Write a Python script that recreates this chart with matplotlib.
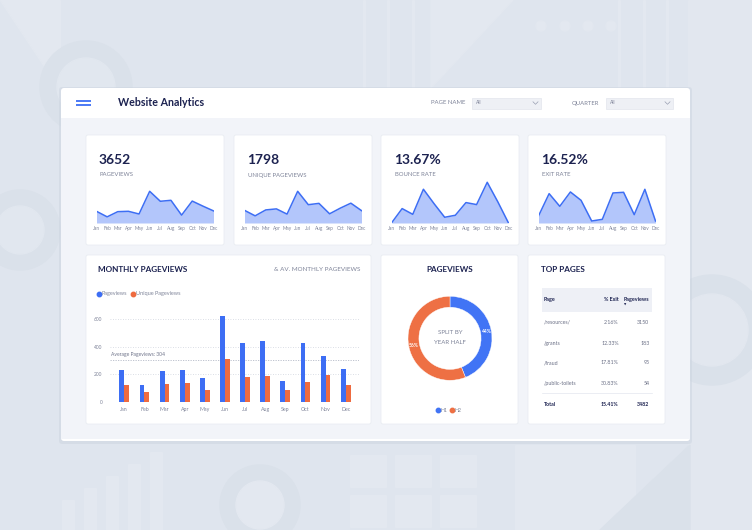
import matplotlib
matplotlib.use("Agg")
import matplotlib.pyplot as plt
from matplotlib.patches import FancyBboxPatch, Rectangle, Circle, Wedge, Polygon
from matplotlib.lines import Line2D

plt.rcParams['font.family'] = ['Lato', 'DejaVu Sans']

# ---- data ----
months = ['Jan', 'Feb', 'Mar', 'Apr', 'May', 'Jun', 'Jul', 'Aug', 'Sep', 'Oct', 'Nov', 'Dec']
pageviews = [230, 121, 223, 230, 177, 623, 427, 446, 155, 431, 332, 238]
unique_pageviews = [124, 70, 128, 138, 87, 310, 179, 192, 90, 145, 194, 121]
bounce_rate = [0.0, 10.8, 6.5, 25.3, 14.5, 4.3, 5.8, 15.3, 13.8, 30.5, 15.8, 0.0]
exit_rate = [6.3, 26.4, 15.0, 27.9, 20.4, 1.8, 3.3, 27.0, 27.6, 7.5, 30.3, 1.8]
avg_pageviews = 304

kpi_values = ['3652', '1798', '13.67%', '16.52%']
kpi_labels = ['PAGEVIEWS', 'UNIQUE PAGEVIEWS', 'BOUNCE RATE', 'EXIT RATE']
kpi_series = [pageviews, unique_pageviews, bounce_rate, exit_rate]

half_labels = ['H1', 'H2']
half_share = [44, 56]

page_names = ['/resources/', '/grants', '/fraud', '/public-toilets']
page_exit = ['2.16%', '12.33%', '17.81%', '30.83%']
page_views = [3150, 183, 95, 54]
total_exit = '15.41%'
total_views = 3482

# ---- colours ----
BLUE = '#3d6ef4'
ORANGE = '#ee6b40'
NAVY = '#1c2250'
GREY = '#7f8499'
FILL = '#b3c6fb'

W, H = 752, 530
fig = plt.figure(figsize=(7.52, 5.30), dpi=100)
bg = fig.add_axes([0, 0, 1, 1])
bg.set_xlim(0, W)
bg.set_ylim(H, 0)
bg.axis('off')


def px_axes(x0, y0, x1, y1):
    return fig.add_axes([x0 / W, 1 - y1 / H, (x1 - x0) / W, (y1 - y0) / H])


# background with faint shapes
bg.add_patch(Rectangle((0, 0), W, H, color='#dfe5ee', zorder=0))
light, dark = '#e3e8f0', '#dae1ea'
bg.add_patch(Polygon([[0, 0], [60, 0], [60, 90]], color=light, zorder=0))
bg.add_patch(Circle((86, 87), 46, color=dark, zorder=0))
bg.add_patch(Circle((86, 87), 29, color='#e1e7ef', zorder=0))
bg.add_patch(Wedge((260, 130), 88, 90, 180, color=light, zorder=0))
bg.add_patch(Wedge((345, 100), 85, 90, 180, color=light, zorder=0))
for x in [363, 387, 412, 618, 643, 666]:
    bg.add_patch(Rectangle((x, 0), 2, 90, color=light, zorder=0))
bg.add_patch(Polygon([[431, 0], [513, 0], [431, 88]], color=light, zorder=0))
for x in [541, 565, 588, 611]:
    bg.add_patch(Circle((x, 26), 5, color=light, zorder=0))
bg.add_patch(Rectangle((688, 0), 64, H, color='#e2e7ef', zorder=0))
bg.add_patch(Circle((712, 330), 55, color=dark, zorder=0))
bg.add_patch(Circle((712, 330), 36, color='#e2e7ef', zorder=0))
bg.add_patch(Circle((20, 230), 40, color=dark, zorder=0))
bg.add_patch(Circle((20, 230), 24, color='#e1e7ef', zorder=0))
for i, x in enumerate([62, 84, 106, 128, 150]):
    bg.add_patch(Rectangle((x, 530 - (30 + 12 * i)), 12, 30 + 12 * i, color=light, zorder=0))
bg.add_patch(Circle((260, 505), 40, color=dark, zorder=0))
bg.add_patch(Circle((260, 505), 24, color=light, zorder=0))
for x in [350, 395, 440]:
    for y in [455, 495]:
        bg.add_patch(Rectangle((x, y), 36, 32, color=light, zorder=0))
bg.add_patch(Rectangle((515, 445), 120, 85, color=light, zorder=0))
bg.add_patch(Polygon([[600, 530], [690, 445], [690, 530]], color=dark, zorder=0))

# panel with soft shadow
bg.add_patch(FancyBboxPatch((59, 87), 633, 357, boxstyle='round,pad=0,rounding_size=3',
                            fc='#ccd4e0', ec='none', alpha=0.5, zorder=1))
bg.add_patch(FancyBboxPatch((61, 88), 629, 353, boxstyle='round,pad=0,rounding_size=3',
                            fc='white', ec='none', zorder=2))
bg.add_patch(Rectangle((61, 118), 629, 321, fc='#f2f4f9', ec='none', zorder=2))

# header
bg.plot([76, 91], [100.7, 100.7], color=BLUE, lw=1.3, zorder=3, solid_capstyle='butt')
bg.plot([76, 91], [104.7, 104.7], color=BLUE, lw=1.3, zorder=3, solid_capstyle='butt')
bg.text(118, 103, 'Website Analytics', fontsize=7.7, weight='bold', color=NAVY,
        va='center', ha='left', zorder=3)
for label, lx, bx0, bx1 in [('PAGE NAME', 465, 472, 541), ('QUARTER', 599, 606, 673)]:
    bg.text(lx, 103, label, fontsize=4.3, color=GREY, va='center', ha='right', zorder=3)
    bg.add_patch(Rectangle((bx0, 97.5), bx1 - bx0, 11, fc='#eef0f5', ec='#dde1ea', lw=0.4, zorder=3))
    bg.text(bx0 + 4, 103, 'All', fontsize=3.5, color=GREY, va='center', ha='left', zorder=4)
    bg.plot([bx1 - 8, bx1 - 5.5, bx1 - 3], [101.8, 104.3, 101.8], color='#9aa0b3', lw=0.5, zorder=4)


def card(x0, y0, x1, y1):
    bg.add_patch(FancyBboxPatch((x0, y0), x1 - x0, y1 - y0, boxstyle='round,pad=0,rounding_size=2',
                                fc='white', ec='#e7eaf1', lw=0.5, zorder=3))


# KPI cards with sparklines
card_x = [86, 234, 381, 528]
peak_px = [31.7, 31.7, 40.7, 33.7]
for cx, val, lab, series, pk in zip(card_x, kpi_values, kpi_labels, kpi_series, peak_px):
    card(cx, 135, cx + 138, 245)
    bg.text(cx + 13, 160.5, val, fontsize=10, weight='bold', color=NAVY,
            va='center', ha='left', zorder=4)
    bg.text(cx + 14, 175, lab, fontsize=4.3, color=GREY, va='center', ha='left', zorder=4)
    ax = px_axes(cx + 10.5, 180, cx + 127.5, 223)
    x = list(range(len(months)))
    ax.fill_between(x, series, 0, color=FILL, lw=0)
    ax.plot(x, series, color=BLUE, lw=1.1)
    ax.set_xlim(0, 11)
    ax.set_ylim(0, max(series) * 43 / pk)
    ax.set_xticks(x, months, fontsize=3.4, color=GREY)
    ax.set_yticks([])
    ax.tick_params(length=0, pad=2.2)
    for s in ax.spines.values():
        s.set_visible(False)
    ax.patch.set_alpha(0)

# monthly pageviews bar chart
card(86, 255, 371, 424)
bg.text(98, 269.5, 'MONTHLY PAGEVIEWS', fontsize=5.9, weight='bold', color=NAVY,
        va='center', ha='left', zorder=4)
bg.text(360, 269.5, '& AV. MONTHLY PAGEVIEWS', fontsize=4.5, color=GREY,
        va='center', ha='right', zorder=4)

ax = px_axes(110, 312.4, 359, 402)
x = list(range(len(months)))
ax.bar([i - 0.12 for i in x], pageviews, width=0.24, color=BLUE, label='Pageviews', zorder=3)
ax.bar([i + 0.12 for i in x], unique_pageviews, width=0.24, color=ORANGE, label='Unique Pageviews', zorder=3)
ax.set_xlim(-0.71, 11.66)
ax.set_ylim(0, 650)
ax.set_yticks([0, 200, 400, 600])
ax.yaxis.grid(True, linestyle=(0, (1, 2)), color='#cfd3dd', lw=0.6)
ax.axhline(avg_pageviews, linestyle=(0, (1.5, 1.5)), color='#b5bac8', lw=0.6, zorder=2)
ax.annotate(f'Average Pageviews: {avg_pageviews}', (-0.66, avg_pageviews), xytext=(0, 4.3),
            textcoords='offset points', fontsize=3.6, color='#6f748a', va='center', ha='left')
ax.set_xticks(x, months, fontsize=3.8)
ax.tick_params(axis='x', length=0, pad=3.3, labelcolor=GREY)
ax.tick_params(axis='y', length=0, pad=5.5, labelsize=3.5, labelcolor=GREY)
for s in ax.spines.values():
    s.set_visible(False)
ax.patch.set_alpha(0)
handles = [Line2D([], [], marker='o', ls='', color=BLUE, markersize=3.2),
           Line2D([], [], marker='o', ls='', color=ORANGE, markersize=3.2)]
fig.legend(handles, ['Pageviews', 'Unique Pageviews'], loc='center left',
           bbox_to_anchor=(97 / W, 1 - 294 / H), ncol=2, frameon=False, fontsize=4.0,
           labelcolor=GREY, handlelength=0.6, handletextpad=0.3, columnspacing=0.7,
           borderpad=0, borderaxespad=0)

# donut
card(381, 255, 518, 424)
bg.text(450, 269.5, 'PAGEVIEWS', fontsize=5.9, weight='bold', color=NAVY,
        va='center', ha='center', zorder=4)
ax = px_axes(408, 296.3, 492, 380.3)
wedges, _, autotexts = ax.pie(half_share, colors=['#4174f5', '#ee7044'], startangle=90,
                              counterclock=False, radius=1, autopct='%1.0f%%', pctdistance=0.87,
                              wedgeprops=dict(width=0.26, edgecolor='white', linewidth=0.3),
                              textprops=dict(fontsize=3.6, color='white', weight='bold'))
ax.set_xlim(-1, 1)
ax.set_ylim(-1, 1)
ax.text(0, 0.15, 'SPLIT BY', fontsize=4.4, color=GREY, ha='center', va='center')
ax.text(0, -0.1, 'YEAR HALF', fontsize=4.4, color=GREY, ha='center', va='center')
handles = [Line2D([], [], marker='o', ls='', color='#4174f5', markersize=3.2),
           Line2D([], [], marker='o', ls='', color='#ee7044', markersize=3.2)]
fig.legend(handles, half_labels, loc='center', bbox_to_anchor=(449 / W, 1 - 410 / H), ncol=2,
           frameon=False, fontsize=3.7, labelcolor=GREY, handlelength=0.6, handletextpad=0.2,
           columnspacing=0.6, borderpad=0, borderaxespad=0)

# top pages table
card(528, 255, 665, 424)
bg.text(541, 269.5, 'TOP PAGES', fontsize=5.9, weight='bold', color=NAVY,
        va='center', ha='left', zorder=4)
bg.add_patch(Rectangle((541.7, 288), 110.3, 24, fc='#eef0f6', ec='none', zorder=4))
bg.text(544, 299.5, 'Page', fontsize=3.9, weight='bold', color=NAVY, va='center', ha='left', zorder=5)
bg.text(618.7, 299.5, '% Exit', fontsize=3.9, weight='bold', color=NAVY, va='center', ha='right', zorder=5)
bg.text(649.3, 299.5, 'Pageviews', fontsize=3.9, weight='bold', color=NAVY, va='center', ha='right', zorder=5)
bg.text(625, 304.5, '▼', fontsize=2.2, color=NAVY, va='center', ha='center', zorder=5,
        family='DejaVu Sans')
row_y = [322.3, 343.3, 363, 383.3]
for y, name, ex, pv in zip(row_y, page_names, page_exit, page_views):
    bg.text(544, y, name, fontsize=3.8, color='#6b7086', va='center', ha='left', zorder=5)
    bg.text(618.7, y, ex, fontsize=3.8, color='#6b7086', va='center', ha='right', zorder=5)
    bg.text(649.3, y, str(pv), fontsize=3.8, color='#6b7086', va='center', ha='right', zorder=5)
bg.plot([541.7, 652], [393.3, 393.3], color='#e3e6ee', lw=0.5, zorder=5)
bg.text(544, 404, 'Total', fontsize=3.8, weight='bold', color=NAVY, va='center', ha='left', zorder=5)
bg.text(618.7, 404, total_exit, fontsize=3.8, weight='bold', color=NAVY, va='center', ha='right', zorder=5)
bg.text(649.3, 404, str(total_views), fontsize=3.8, weight='bold', color=NAVY, va='center', ha='right', zorder=5)

fig.savefig('out.png', dpi=100)
